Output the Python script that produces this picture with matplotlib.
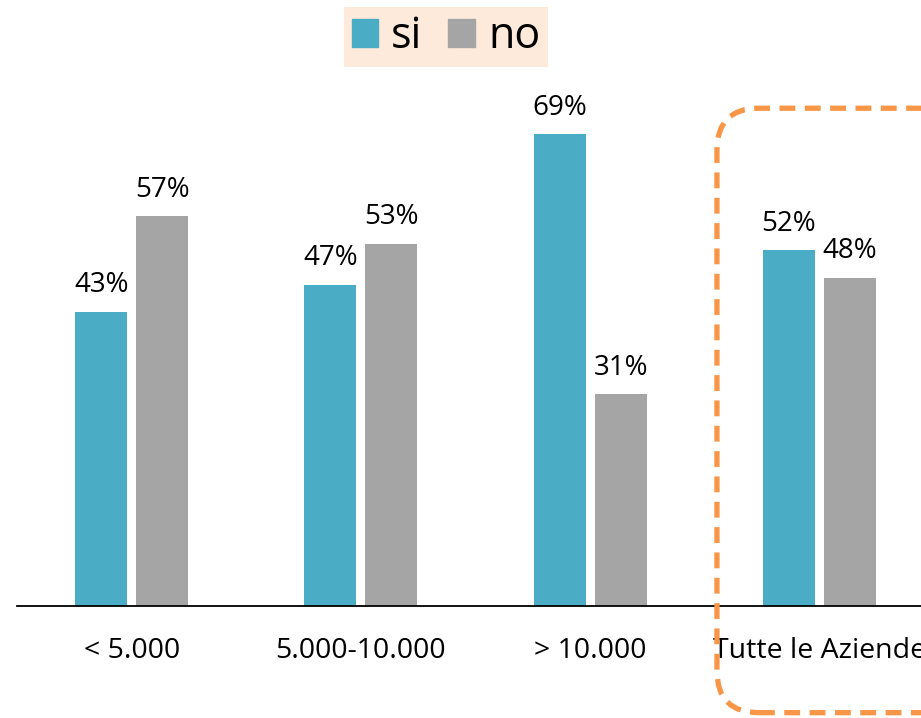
import matplotlib

matplotlib.use("Agg")
import matplotlib.pyplot as plt
import numpy as np
from matplotlib.patches import FancyBboxPatch, Patch

categories = ["< 5.000", "5.000-10.000", "> 10.000", "Tutte le Aziende"]
si_vals = [43, 47, 69, 52]
no_vals = [57, 53, 31, 48]
series_names = ["si", "no"]

SI_COLOR = "#4BACC6"
NO_COLOR = "#A5A5A5"

plt.rcParams["font.family"] = ["Open Sans", "DejaVu Sans"]

fig = plt.figure(figsize=(9.21, 7.18), dpi=100)
ax = fig.add_axes([17 / 921, 112 / 718, 904 / 921, 547 / 718])

x = np.arange(len(categories))
width = 0.227
off = 0.133
b1 = ax.bar(x - off, si_vals, width, color=SI_COLOR)
b2 = ax.bar(x + off, no_vals, width, color=NO_COLOR)

for bars, vals in ((b1, si_vals), (b2, no_vals)):
    for rect, v in zip(bars, vals):
        ax.annotate(f"{v}%", (rect.get_x() + rect.get_width() / 2, v),
                    xytext=(0, 9), textcoords="offset points",
                    ha="center", va="bottom", fontsize=20)

ax.set_xlim(-0.5, 3.443)
ax.set_ylim(0, 80)
ax.set_xticks(x)
ax.set_xticklabels(categories, fontsize=20.5)
ax.tick_params(axis="x", length=0, pad=22)
ax.set_yticks([])
for s in ("top", "right", "left"):
    ax.spines[s].set_visible(False)
ax.spines["bottom"].set_linewidth(1.3)

# dashed highlight around the last group
fig.canvas.draw()
(x0, y0) = ax.transData.transform((2.553, -15.6))
(x1, y1) = ax.transData.transform((3.8, 72.8))
box = FancyBboxPatch((x0, y0), x1 - x0, y1 - y0,
                     boxstyle="round,pad=0,rounding_size=42",
                     transform=None, fill=False, edgecolor="#F79646",
                     linewidth=3.8, linestyle=(0, (3, 1.8)), clip_on=False)
fig.patches.append(box)

handles = [Patch(color=SI_COLOR), Patch(color=NO_COLOR)]
leg = fig.legend(handles, series_names, loc="center",
                 bbox_to_anchor=(446 / 921, 1 - 37 / 718), ncol=2,
                 fontsize=31, frameon=True, facecolor="#FDEADA",
                 edgecolor="none", framealpha=1, fancybox=False,
                 handlelength=0.62, handleheight=0.62, handletextpad=0.3,
                 columnspacing=0.6, borderpad=0.18, borderaxespad=0)

fig.savefig("out.png", dpi=100)
